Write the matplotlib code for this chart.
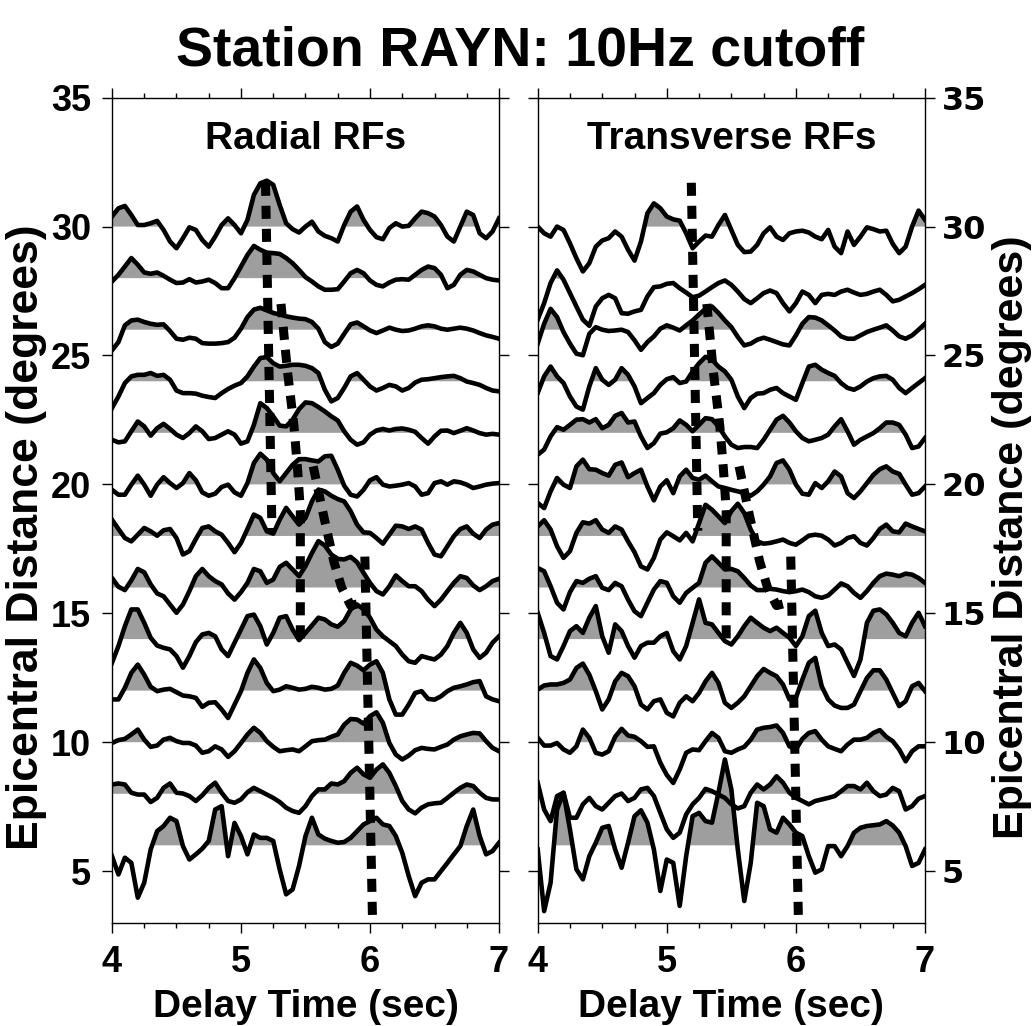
import matplotlib
matplotlib.use("Agg")
import matplotlib.pyplot as plt
import numpy as np

plt.rcParams['font.family'] = ['Liberation Sans', 'DejaVu Sans']
plt.rcParams['font.weight'] = 'bold'

# sample times of the receiver functions (sec)
delay = np.linspace(4.0, 7.0, 61)
# epicentral distance of each trace baseline (degrees)
distance = [30, 28, 26, 24, 22, 20, 18, 16, 14, 12, 10, 8, 6]

# radial RF amplitudes, offsets from the baseline (degree units)
rad_30 = [0.39, 0.71, 0.80, 0.45, 0.06, 0.06, 0.13, 0.22, -0.13, -0.58,
          -0.84, -0.45, -0.03, -0.13, -0.52, -0.78, -0.39, 0.06, 0.32, 0.06,
          -0.26, 0.26, 1.23, 1.68, 1.78, 1.62, 0.84, 0.13, -0.10, -0.23,
          0.00, 0.19, -0.19, -0.36, -0.45, -0.58, 0.06, 0.58, 0.78, 0.26,
          -0.13, -0.41, -0.49, -0.06, 0.13, 0.00, 0.03, 0.32, 0.58, 0.52,
          0.39, 0.06, -0.39, -0.58, 0.00, 0.58, 0.45, -0.26, -0.45, -0.19,
          0.32]
rad_28 = [-0.13, 0.13, 0.45, 0.78, 0.52, 0.22, 0.17, 0.22, 0.09, -0.06,
          -0.19, -0.17, -0.04, -0.17, -0.13, -0.06, -0.19, -0.39, -0.39, 0.00,
          0.45, 0.90, 1.25, 1.10, 0.99, 0.97, 0.94, 0.78, 0.58, 0.32,
          0.04, -0.13, -0.32, -0.45, -0.45, -0.43, -0.13, 0.19, 0.32, 0.19,
          -0.09, -0.26, -0.32, -0.17, -0.06, -0.04, -0.06, 0.13, 0.32, 0.45,
          0.39, 0.13, -0.39, -0.26, 0.13, 0.32, 0.26, 0.13, 0.00, -0.06,
          -0.09]
rad_26 = [-0.80, -0.48, 0.17, 0.36, 0.39, 0.30, 0.23, 0.19, 0.21, -0.05,
          -0.35, -0.39, -0.31, -0.35, -0.52, -0.54, -0.54, -0.52, -0.48, -0.31,
          0.04, 0.49, 0.78, 0.85, 0.75, 0.65, 0.59, 0.52, 0.47, 0.43,
          0.41, 0.30, 0.04, -0.48, -0.67, -0.54, -0.16, 0.21, 0.28, 0.13,
          -0.03, -0.13, -0.03, 0.08, 0.00, -0.05, -0.03, 0.04, 0.13, 0.17,
          0.13, 0.04, 0.00, 0.04, 0.08, 0.04, -0.03, -0.13, -0.22, -0.28,
          -0.35]
rad_24 = [-1.04, -0.59, -0.07, 0.19, 0.25, 0.25, 0.32, 0.21, 0.25, 0.06,
          -0.36, -0.46, -0.46, -0.48, -0.56, -0.61, -0.65, -0.46, -0.30, -0.17,
          -0.07, 0.19, 0.57, 0.90, 0.94, 0.70, 0.57, 0.60, 0.64, 0.64,
          0.60, 0.51, 0.32, -0.33, -0.78, -0.65, -0.26, 0.19, 0.32, 0.06,
          -0.20, -0.36, -0.26, -0.14, -0.20, -0.36, -0.26, -0.05, 0.06, 0.08,
          0.12, 0.16, 0.19, 0.21, 0.12, -0.01, -0.07, -0.14, -0.26, -0.36,
          -0.39]
rad_22 = [-0.27, -0.37, -0.33, 0.06, 0.44, 0.25, -0.11, 0.18, 0.35, 0.15,
          -0.07, -0.20, -0.01, 0.25, 0.06, -0.24, -0.20, -0.07, 0.06, -0.07,
          -0.42, -0.33, 0.31, 1.15, 0.96, 0.64, 0.28, 0.25, 0.51, 0.92,
          1.18, 1.15, 1.00, 0.83, 0.64, 0.48, 0.06, -0.27, -0.46, -0.37,
          -0.07, 0.09, 0.15, 0.09, 0.15, 0.17, 0.12, 0.04, -0.20, -0.42,
          -0.14, 0.08, 0.09, -0.01, 0.08, 0.18, 0.09, -0.01, -0.07, -0.04,
          -0.07]
rad_20 = [-0.21, -0.40, -0.40, -0.01, 0.34, -0.01, -0.44, -0.01, 0.28, 0.05,
          -0.14, 0.05, 0.44, 0.16, -0.31, -0.44, -0.36, -0.10, -0.01, -0.31,
          -0.44, 0.05, 0.83, 1.19, 0.96, 0.44, 0.12, 0.44, 0.76, 0.98,
          0.98, 0.93, 0.89, 1.09, 1.11, 0.57, -0.05, -0.40, -0.47, -0.21,
          0.16, 0.28, -0.01, -0.08, -0.05, -0.01, 0.05, -0.08, -0.40, -0.34,
          0.05, 0.12, -0.01, 0.12, 0.08, -0.01, -0.14, -0.08, -0.01, 0.03,
          0.05]
rad_18 = [0.63, 0.27, -0.08, -0.21, 0.05, 0.31, 0.18, 0.01, 0.22, 0.27,
          -0.08, -0.72, -0.59, -0.12, 0.31, 0.37, 0.18, 0.05, -0.27, -0.63,
          -0.27, 0.27, 0.83, 0.70, 0.18, 0.09, 0.63, 1.09, 0.76, 0.44,
          0.70, 1.34, 1.80, 1.73, 1.56, 1.43, 1.34, 0.96, 0.44, 0.14,
          0.12, -0.08, -0.30, 0.05, 0.40, 0.37, 0.27, 0.37, 0.25, -0.27,
          -0.72, -0.79, -0.40, -0.01, 0.27, 0.37, 0.09, -0.08, 0.25, 0.44,
          0.50]
rad_16 = [0.37, 0.03, -0.10, 0.28, 0.72, 0.59, 0.12, -0.23, -0.34, -0.66,
          -0.98, -0.66, -0.14, 0.44, 0.72, 0.44, 0.25, 0.12, -0.23, -0.47,
          -0.18, 0.18, 0.72, 0.63, 0.18, 0.31, 0.80, 0.96, 0.70, 0.44,
          0.83, 1.34, 1.80, 1.63, 1.28, 1.11, 1.09, 1.19, 0.98, 0.57,
          0.18, -0.14, -0.27, 0.05, 0.47, 0.25, 0.05, 0.05, -0.14, -0.47,
          -0.72, -0.47, -0.14, 0.18, 0.44, 0.37, 0.08, -0.10, 0.05, 0.25,
          0.34]
rad_14 = [-0.92, -0.27, 0.50, 1.15, 1.15, 0.63, 0.05, -0.25, -0.34, -0.40,
          -0.66, -1.11, -0.66, -0.12, 0.18, 0.24, 0.11, -0.40, -0.66, -0.14,
          0.37, 0.89, 0.95, 0.50, -0.21, 0.24, 0.83, 0.89, 0.37, -0.04,
          0.24, 0.53, 0.83, 0.76, 0.57, 0.48, 0.70, 1.15, 1.34, 1.15,
          0.83, 0.37, 0.11, -0.08, -0.27, -0.60, -0.86, -0.92, -0.66, -0.73,
          -0.79, -0.60, -0.27, 0.24, 0.63, 0.24, -0.40, -0.73, -0.53, -0.14,
          0.11]
rad_12 = [-0.34, -0.34, 0.11, 0.69, 1.01, 0.62, 0.15, -0.02, 0.04, 0.07,
          -0.06, -0.19, -0.22, -0.28, -0.63, -0.47, -0.45, -0.73, -1.06, -0.54,
          -0.02, 0.69, 1.21, 0.88, 0.30, -0.02, 0.04, 0.17, 0.11, 0.04,
          0.07, 0.15, 0.11, 0.04, 0.07, 0.20, 0.69, 1.08, 0.97, 0.79,
          1.01, 1.14, 0.69, -0.34, -0.93, -0.93, -0.54, -0.09, -0.02, -0.32,
          -0.35, -0.22, -0.02, 0.11, 0.17, 0.24, 0.33, 0.37, -0.22, -0.34,
          -0.41]
rad_10 = [-0.03, 0.08, 0.13, 0.30, 0.49, 0.10, -0.18, -0.13, 0.10, 0.17,
          0.04, -0.03, -0.03, -0.13, -0.41, -0.35, -0.16, -0.28, -0.57, -0.35,
          -0.03, 0.30, 0.56, 0.36, 0.04, -0.18, -0.35, -0.31, -0.28, -0.35,
          -0.16, 0.04, 0.08, 0.10, 0.21, 0.30, 0.68, 0.90, 0.88, 0.72,
          1.01, 1.16, 0.75, -0.03, -0.48, -0.67, -0.52, -0.31, -0.22, -0.26,
          -0.28, -0.18, -0.09, 0.10, 0.23, 0.30, 0.36, 0.34, 0.04, -0.22,
          -0.35]
rad_8 = [0.36, 0.40, 0.36, 0.04, -0.03, -0.03, -0.32, -0.16, 0.23, 0.40,
         0.04, 0.01, -0.09, -0.28, -0.06, 0.23, 0.43, 0.04, -0.28, -0.35,
         -0.22, 0.06, 0.23, 0.10, -0.03, -0.16, -0.32, -0.54, -0.67, -0.74,
         -0.48, -0.09, 0.17, 0.17, 0.40, 0.36, 0.49, 0.81, 1.01, 0.75,
         0.62, 0.94, 1.14, 0.81, 0.30, -0.28, -0.61, -0.76, -0.54, -0.41,
         -0.37, -0.35, -0.16, 0.04, 0.23, 0.36, 0.30, 0.04, -0.16, -0.22,
         -0.22]
rad_6 = [-0.42, -1.13, -0.48, -0.68, -2.03, -1.45, -0.16, 0.55, 0.75, 1.07,
         0.94, -0.03, -0.55, -0.35, -0.13, 0.17, 1.39, 1.52, -0.42, 0.87,
         0.36, -0.35, 0.42, 0.29, 0.29, 0.17, -0.94, -1.90, -1.71, -0.80,
         0.36, 1.07, 0.42, 0.26, 0.17, 0.10, 0.13, 0.29, 0.55, 0.81,
         0.94, 1.07, 0.81, 0.75, 0.36, -0.29, -1.19, -1.97, -1.45, -1.32,
         -1.32, -1.00, -0.68, -0.35, -0.03, 0.75, 1.39, 0.36, -0.35, -0.22,
         0.10]

# transverse RF amplitudes
trn_30 = [0.00, -0.26, -0.39, 0.00, -0.13, -0.65, -1.23, -1.74, -1.42, -0.78,
          -0.54, -0.45, -0.19, -0.39, -0.90, -1.32, -0.58, 0.52, 0.90, 0.71,
          0.39, 0.28, 0.23, -0.26, -0.84, -0.58, -0.35, -0.39, 0.06, 0.45,
          -0.13, -0.71, -0.99, -0.97, -0.71, -0.26, -0.03, -0.39, -0.52, -0.26,
          -0.19, -0.16, -0.23, -0.39, -0.49, -0.13, -0.78, -1.03, -0.19, -0.71,
          -0.39, -0.03, -0.10, -0.19, -0.16, -0.67, -1.03, -0.78, 0.00, 0.62,
          0.26]
trn_28 = [-1.61, -0.97, -0.19, 0.30, -0.06, -0.58, -1.10, -1.61, -1.85, -1.10,
          -0.78, -0.65, -0.78, -1.36, -1.38, -1.29, -1.23, -0.71, -0.35, -0.32,
          -0.22, -0.19, -0.39, -0.56, -0.74, -0.68, -0.52, -0.35, -0.19, -0.09,
          -0.26, -0.52, -0.81, -0.97, -0.78, -0.58, -0.48, -0.58, -0.97, -1.29,
          -0.97, -0.52, -0.65, -0.97, -0.65, -0.61, -0.65, -0.52, -0.45, -0.56,
          -0.65, -0.61, -0.52, -0.45, -0.65, -0.90, -0.84, -0.71, -0.58, -0.43,
          -0.26]
trn_26 = [-0.54, 0.23, 0.81, 0.49, -0.09, -0.54, -0.93, -0.99, -0.16, 0.10,
          0.00, -0.05, -0.03, 0.00, -0.09, -0.41, -0.78, -0.48, -0.26, 0.04,
          0.17, 0.08, -0.03, 0.17, 0.36, 0.59, 0.81, 0.90, 0.65, 0.36,
          0.10, -0.28, -0.61, -0.54, -0.39, -0.31, -0.39, -0.48, -0.57, -0.61,
          -0.22, 0.23, 0.49, 0.47, 0.36, 0.17, -0.03, -0.26, -0.35, -0.35,
          -0.22, -0.09, 0.00, 0.08, 0.17, -0.03, -0.26, -0.35, -0.22, 0.00,
          0.23]
trn_24 = [-0.46, 0.19, 0.57, 0.19, -0.07, -0.59, -0.98, -1.10, -0.20, 0.51,
          0.06, -0.14, 0.06, 0.51, 0.25, -0.20, -0.85, -0.65, -0.46, -0.14,
          0.08, 0.16, -0.07, -0.01, 0.38, 0.70, 0.95, 0.84, 0.57, 0.38,
          0.06, -0.59, -1.04, -0.65, -0.48, -0.46, -0.33, -0.26, -0.46, -0.59,
          -0.72, -0.07, 0.57, 0.64, 0.45, 0.32, 0.21, -0.07, -0.26, -0.33,
          -0.20, -0.01, 0.12, 0.19, 0.21, 0.06, -0.26, -0.46, -0.26, -0.07,
          0.12]
trn_22 = [-0.85, -0.65, -0.14, 0.22, 0.12, 0.31, 0.51, 0.53, 0.40, 0.53,
          0.18, 0.31, 0.66, 0.77, 0.40, 0.44, -0.14, -0.59, -0.40, -0.03,
          0.02, 0.18, 0.48, 0.31, 0.06, 0.31, 0.57, 0.53, 0.25, -0.14,
          -0.46, -0.59, -0.55, -0.55, -0.59, -0.27, 0.12, 0.51, 0.66, 0.40,
          0.06, -0.20, -0.33, -0.27, -0.20, -0.07, 0.25, 0.53, 0.06, -0.46,
          -0.27, -0.14, -0.01, 0.18, 0.40, 0.40, 0.31, -0.07, -0.59, -0.53,
          -0.20]
trn_20 = [-0.72, -0.92, -0.27, 0.25, -0.01, -0.14, 0.70, 0.96, 0.59, 0.57,
          0.44, 0.34, 0.76, 0.85, 0.28, 0.44, 0.57, -0.08, -0.62, -0.08,
          0.16, -0.34, 0.31, 0.57, 0.25, 0.18, 0.34, 0.12, -0.08, -0.14,
          -0.21, -0.27, -0.34, -0.44, -0.27, -0.01, 0.31, 0.83, 0.93, 0.57,
          -0.01, -0.36, -0.40, 0.05, -0.14, 0.12, 0.50, 0.31, -0.34, -0.53,
          -0.27, 0.05, 0.37, 0.59, 0.70, 0.50, 0.41, -0.01, -0.40, -0.34,
          -0.08]
trn_18 = [0.37, 0.61, 0.25, -0.40, -0.85, -0.59, 0.12, 0.53, 0.48, 0.61,
          0.25, 0.12, 0.37, 0.25, -0.21, -0.63, -1.18, -1.30, -0.85, -0.14,
          0.14, -0.01, -0.17, 0.12, -0.21, 0.50, 1.21, 1.02, 0.76, 0.50,
          0.96, 1.25, 0.89, 0.25, -0.21, -0.30, -0.27, -0.21, -0.14, -0.27,
          -0.34, -0.17, 0.01, 0.05, 0.01, -0.14, -0.37, -0.27, -0.08, -0.01,
          -0.27, -0.37, -0.08, 0.27, 0.44, 0.18, 0.14, 0.48, 0.37, 0.27,
          0.18]
trn_16 = [0.76, 0.63, 0.05, -0.59, -0.85, -0.18, 0.25, 0.18, 0.34, 0.44,
          -0.01, -0.10, 0.18, 0.05, -0.47, -0.92, -1.11, -0.59, -0.08, 0.25,
          0.18, -0.34, -0.59, -0.21, -0.01, 0.18, 0.96, 1.21, 0.96, 0.70,
          0.72, 0.63, 0.37, 0.08, -0.10, -0.10, -0.05, -0.08, -0.14, -0.18,
          -0.14, -0.08, -0.18, -0.34, -0.40, -0.31, -0.08, 0.16, 0.05, -0.21,
          -0.40, -0.14, 0.18, 0.44, 0.54, 0.50, 0.44, 0.54, 0.50, 0.37,
          0.18]
trn_14 = [1.02, 0.24, -0.66, -0.79, -0.27, 0.31, 0.50, 0.24, 0.83, 1.28,
          0.11, -0.53, 0.57, 0.31, -0.27, -0.72, -0.27, -0.14, -0.14, 0.11,
          0.24, -0.47, -0.79, -0.27, 0.63, 1.54, 0.63, 0.57, 0.24, -0.08,
          -0.21, 0.11, 0.50, 0.83, 0.63, 0.44, 0.31, 0.44, 0.24, 0.05,
          -0.27, 0.11, 0.89, 1.10, 0.24, -0.27, -0.21, -0.40, -0.92, -1.43,
          -0.79, 0.63, 1.10, 1.15, 0.96, 0.63, 0.24, 0.11, 0.63, 1.02,
          0.50]
trn_12 = [0.04, 0.20, 0.24, 0.24, 0.30, 0.43, 0.88, 1.05, 0.62, -0.02,
          -0.73, -0.34, 0.36, 0.69, 0.56, 0.17, -0.54, -0.73, -0.41, -0.34,
          -0.86, -1.00, -0.47, -0.22, -0.41, -0.09, 0.36, 0.69, 0.30, -0.47,
          -0.67, -0.47, -0.22, 0.17, 0.56, 0.84, 0.69, 0.56, 0.24, -0.34,
          -0.28, 0.43, 1.08, 1.27, 0.17, -0.34, -0.58, -0.67, -0.67, -0.54,
          -0.02, 0.49, 0.79, 0.79, 0.43, -0.09, -0.60, -0.41, 0.17, 0.30,
          -0.02]
trn_10 = [0.17, -0.13, -0.13, -0.03, -0.28, -0.41, -0.16, 0.49, 0.17, -0.41,
          -0.48, -0.35, 0.21, 0.52, 0.26, 0.21, 0.04, -0.18, -0.16, -0.80,
          -1.27, -1.58, -1.06, -0.41, -0.28, -0.31, 0.04, 0.36, 0.17, -0.35,
          -0.41, -0.28, -0.18, 0.10, 0.49, 0.56, 0.59, 0.65, 0.36, -0.16,
          -0.28, 0.13, 0.36, 0.43, 0.10, -0.16, -0.26, -0.35, -0.09, 0.10,
          0.10, 0.17, 0.36, 0.47, 0.21, 0.04, -0.28, -0.74, -0.35, -0.16,
          -0.16]
trn_8 = [0.43, -0.61, -1.06, -0.09, 0.04, -0.93, -0.93, -0.41, -0.16, -0.48,
         -0.61, -0.35, -0.09, 0.01, -0.28, -0.16, 0.17, 0.23, -0.09, -0.74,
         -1.38, -1.71, -1.51, -0.80, -0.41, -0.16, 0.19, 0.10, -0.03, -0.16,
         -0.41, -0.57, -0.48, 0.04, 0.36, 0.17, 0.36, 0.68, 0.43, 0.04,
         -0.16, -0.28, -0.41, -0.28, -0.22, -0.16, -0.09, 0.10, 0.30, 0.30,
         0.17, 0.43, 0.10, -0.09, -0.03, 0.23, 0.10, -0.61, -0.48, -0.19,
         -0.09]
trn_6 = [-0.16, -2.55, -1.45, 1.39, 2.04, 0.62, -0.93, -1.32, -0.42, 0.10,
         0.68, 0.75, -0.16, -0.87, 0.10, 1.13, 1.36, 0.88, -0.16, -1.77,
         -0.55, -0.68, -2.35, -0.42, 1.13, 1.26, 0.94, 0.88, 2.04, 3.33,
         2.17, -0.16, -2.16, -0.68, 1.65, 1.52, 0.62, 0.49, 1.07, 0.81,
         0.49, 0.36, -0.42, -1.06, -0.93, -0.03, -0.03, -0.42, -0.03, 0.49,
         0.68, 0.75, 0.78, 0.81, 0.94, 0.77, 0.49, -0.03, -0.80, -0.68,
         -0.16]

radial = [rad_30, rad_28, rad_26, rad_24, rad_22, rad_20, rad_18,
          rad_16, rad_14, rad_12, rad_10, rad_8, rad_6]
transverse = [trn_30, trn_28, trn_26, trn_24, trn_22, trn_20, trn_18,
              trn_16, trn_14, trn_12, trn_10, trn_8, trn_6]

# picked moveout lines (delay, distance), drawn on both panels
pick_a = ([5.19, 5.24], [31.7, 18.2])
pick_b = ([5.31, 5.36, 5.41, 5.44, 5.46, 5.46], [27.0, 24.4, 22.3, 20.5, 19.0, 14.0])
pick_c = ([5.56, 5.64, 5.72, 5.78, 5.85, 5.93], [20.7, 18.8, 17.0, 16.0, 15.3, 15.4])
pick_d = ([5.96, 6.02], [17.2, 3.0])
picks = [pick_a, pick_b, pick_c, pick_d]

fill_col = '#9e9e9e'

fig = plt.figure(figsize=(10.34, 10.26), dpi=100)
ax1 = fig.add_axes([0.1083, 0.1007, 0.3743, 0.8041])
ax2 = fig.add_axes([0.5200, 0.1007, 0.3746, 0.8041])

for ax, traces, name in ((ax1, radial, 'Radial RFs'), (ax2, transverse, 'Transverse RFs')):
    for base, amp in zip(distance, traces):
        amp = np.asarray(amp)
        ax.fill_between(delay, base, base + amp, where=amp > 0, interpolate=True,
                        color=fill_col, lw=0, zorder=1)
    for base, amp in zip(distance, traces):
        ax.plot(delay, base + np.asarray(amp), color='black', lw=3.3,
                solid_joinstyle='round', zorder=2)
    for t, d in picks:
        ax.plot(t, d, color='black', lw=6.5, linestyle=(0, (1.45, 1.1)),
                dash_capstyle='butt', zorder=3)

    ax.set_xlim(4, 7)
    ax.set_ylim(3, 35)
    ax.set_xticks([4, 5, 6, 7])
    ax.set_xticks(np.arange(4, 7.01, 0.25), minor=True)
    ax.set_yticks([5, 10, 15, 20, 25, 30, 35])
    ax.tick_params(axis='both', which='both', direction='out', width=1.0)
    ax.tick_params(which='major', length=7)
    ax.tick_params(which='minor', length=3.5)
    ax.tick_params(axis='x', which='both', top=True, bottom=True, pad=9, labelsize=26)
    ax.tick_params(axis='y', which='both', left=True, right=True, labelsize=26)
    for s in ax.spines.values():
        s.set_linewidth(1.0)

    ax.text(5.5, 33.0, name, ha='center', va='baseline', fontsize=28, fontweight='bold')
    ax.text(0.5, -0.114, 'Delay Time (sec)', transform=ax.transAxes,
            ha='center', va='baseline', fontsize=28, fontweight='bold')

ax1.tick_params(axis='y', labelleft=True, labelright=False, pad=8)
ax2.tick_params(axis='y', labelleft=False, labelright=True, pad=5)
for lab in ax2.get_yticklabels():
    lab.set_family('DejaVu Sans')
    lab.set_fontsize(23)

fig.text(0.503, 0.9366, 'Station RAYN: 10Hz cutoff', ha='center', va='baseline',
         fontsize=40, fontweight='bold')
fig.text(0.026, 0.476, 'Epicentral Distance (degrees)', rotation=90,
         ha='center', va='center', fontsize=32, fontweight='bold')
fig.text(0.979, 0.476, 'Epicentral Distance (degrees)', rotation=90,
         ha='center', va='center', fontsize=31, fontweight='bold')

fig.savefig('out.png', dpi=100)
